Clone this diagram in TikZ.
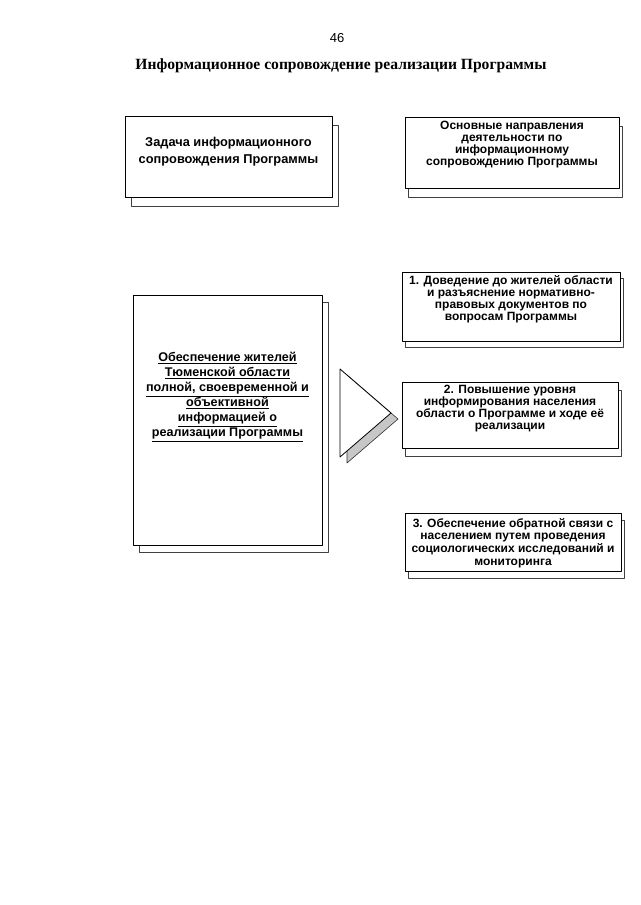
\documentclass[tikz,border=0pt]{standalone}
\usepackage{fontspec}
\setmainfont{Liberation Serif}
\setsansfont{Liberation Sans}
\usetikzlibrary{shadows}

\begin{document}
\begin{tikzpicture}[x=1pt, y=-1pt, line join=round,
    framebox/.style 2 args={draw, line width=0.8pt, fill=white, inner sep=0pt,
      copy shadow={shadow xshift=#1, shadow yshift=#2, draw=black!75,
        line width=0.6pt, fill=white}},
    boxtext/.style={font=\sffamily\bfseries\fontsize{12}{12}\selectfont,
      align=center, inner sep=0pt}]
  \useasboundingbox (0,0) rectangle (640,905);
  % Page number and heading.
  \node[font=\sffamily\fontsize{13}{15}\selectfont] (pagenum) at (337,38) {46};
  \node[font=\bfseries\fontsize{15.6}{18}\selectfont] (heading) at (341,66)
    {Информационное сопровождение реализации Программы};
  % Upper row: the task and the heading of the directions.
  \node[framebox={6pt}{-9pt}, minimum width=207, minimum height=81] (task) at (228.5,156.5) {};
  \node[boxtext, font=\sffamily\bfseries\fontsize{12.8}{17}\selectfont, yshift=5pt]
    (tasktext) at (task.center) {Задача информационного\\сопровождения Программы};
  \node[framebox={3pt}{-9pt}, minimum width=214, minimum height=71] (directions) at (512,152.5) {};
  \node[boxtext, yshift=8pt] (directionstext) at (directions.center)
    {Основные направления\\деятельности по\\информационному\\сопровождению Программы};
  % The goal, underlined line by line.
  \node[framebox={6pt}{-7pt}, minimum width=189, minimum height=250] (goal) at (227.5,420) {};
  \node[boxtext, font=\sffamily\bfseries\fontsize{12.6}{15}\selectfont, yshift=23pt]
    (goaltext) at (goal.center)
    {\underline{Обеспечение жителей}\\\underline{Тюменской области}\\
     \underline{полной, своевременной и}\\\underline{объективной}\\
     \underline{информацией о}\\\underline{реализации Программы}};
  % The arrow head pointing at the three directions.
  \fill[black!22] (347,375) -- (398,419) -- (347,463) -- cycle;
  \draw[black!80, line width=0.6pt] (347,375) -- (398,419) -- (347,463) -- cycle;
  \draw[line width=0.8pt, fill=white] (340,369) -- (391,413) -- (340,457) -- cycle;
  % The three directions.
  \node[framebox={3pt}{-6pt}, minimum width=218, minimum height=69] (dirone) at (511,306.5) {};
  \node[boxtext, yshift=7pt] (dironetext) at (dirone.center)
    {1. Доведение до жителей области\\и разъяснение нормативно-\\правовых документов по\\вопросам Программы};
  \node[framebox={3pt}{-8pt}, minimum width=216, minimum height=66] (dirtwo) at (510,415) {};
  \node[boxtext, yshift=6pt] (dirtwotext) at (dirtwo.center)
    {2. Повышение уровня\\информирования населения\\области о Программе и ходе её\\реализации};
  \node[framebox={3pt}{-7pt}, minimum width=216, minimum height=58] (dirthree) at (513,542) {};
  \node[boxtext, font=\sffamily\bfseries\fontsize{12}{12.7}\selectfont, yshift=-1pt]
    (dirthreetext) at (dirthree.center)
    {3. Обеспечение обратной связи с\\населением путем проведения\\социологических исследований и\\мониторинга};
\end{tikzpicture}
\end{document}
